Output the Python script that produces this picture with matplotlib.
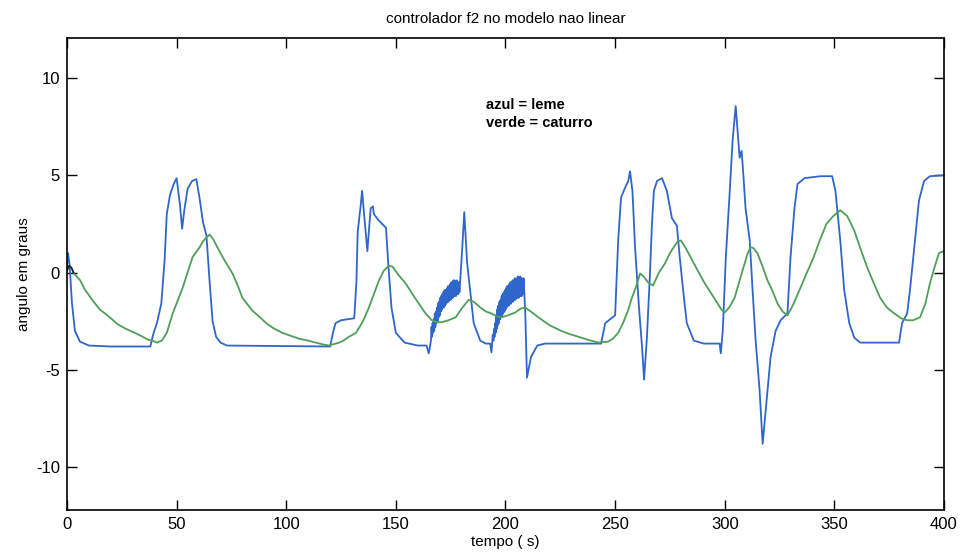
import matplotlib
matplotlib.use("Agg")
import matplotlib.pyplot as plt

# leme (blue), in pieces
leme_t_a = [0, 0.5, 1.2, 2.2, 3.6, 5.9, 10, 20, 38, 39.5, 41, 43, 44.5, 45.5, 47, 48.5, 50,
            51.5, 52.5, 53.5, 55, 57, 59, 60.5, 62, 63.6, 65, 66.4, 68, 70, 73, 120,
            121.5, 122.5, 125, 131, 132, 132.6, 134, 134.6, 135.5, 137, 138.5, 139.5, 140,
            142, 145.5, 146.5, 148, 150, 154, 160, 164, 165]
leme_y_a = [0.3, 1.0, 0.4, -1.5, -3.0, -3.55, -3.75, -3.8, -3.8, -3.1, -2.6, -1.6, 0.6, 3.0, 4.0, 4.5, 4.85,
            3.5, 2.25, 3.2, 4.3, 4.7, 4.8, 3.8, 2.6, 1.9, -0.4, -2.5, -3.3, -3.6, -3.75, -3.8,
            -3.0, -2.6, -2.45, -2.35, -0.5, 2.1, 3.5, 4.2, 3.0, 1.1, 3.3, 3.4, 3.0,
            2.7, 2.3, 0.5, -1.8, -3.1, -3.6, -3.75, -3.75, -4.15]

# first chattering stretch (about t = 166..179)
ruido1_t = [166.00, 166.25, 166.50, 166.75, 167.00, 167.25, 167.50, 167.75, 168.00, 168.25,
            168.50, 168.75, 169.00, 169.25, 169.50, 169.75, 170.00, 170.25, 170.50, 170.75,
            171.00, 171.25, 171.50, 171.75, 172.00, 172.25, 172.50, 172.75, 173.00, 173.25,
            173.50, 173.75, 174.00, 174.25, 174.50, 174.75, 175.00, 175.25, 175.50, 175.75,
            176.00, 176.25, 176.50, 176.75, 177.00, 177.25, 177.50, 177.75, 178.00, 178.25,
            178.50, 178.75, 179.00, 179.25]
ruido1_y = [-3.5, -2.8, -3.3, -2.6, -3.1, -2.4, -3.0, -2.1, -2.8, -2.0,
            -2.6, -1.8, -2.5, -1.6, -2.3, -1.5, -2.2, -1.3, -2.0, -1.2,
            -1.9, -1.1, -1.8, -1.0, -1.8, -0.9, -1.7, -0.9, -1.6, -0.8,
            -1.5, -0.7, -1.5, -0.7, -1.4, -0.6, -1.4, -0.5, -1.3, -0.5,
            -1.3, -0.4, -1.2, -0.4, -1.2, -0.5, -1.2, -0.4, -1.1, -0.5,
            -1.1, -0.5, -1.0, -0.6]

leme_t_b = [180.3, 181.2, 182.5, 185.5, 188.5, 191, 193, 193.6, 194.2]
leme_y_b = [1.3, 3.1, 0.5, -2.6, -3.5, -3.65, -3.65, -4.1, -3.2]

# second chattering stretch (about t = 194..208)
ruido2_t = [194.50, 194.75, 195.00, 195.25, 195.50, 195.75, 196.00, 196.25, 196.50, 196.75,
            197.00, 197.25, 197.50, 197.75, 198.00, 198.25, 198.50, 198.75, 199.00, 199.25,
            199.50, 199.75, 200.00, 200.25, 200.50, 200.75, 201.00, 201.25, 201.50, 201.75,
            202.00, 202.25, 202.50, 202.75, 203.00, 203.25, 203.50, 203.75, 204.00, 204.25,
            204.50, 204.75, 205.00, 205.25, 205.50, 205.75, 206.00, 206.25, 206.50, 206.75,
            207.00, 207.25, 207.50, 207.75, 208.00, 208.25]
ruido2_y = [-3.5, -2.9, -3.3, -2.6, -3.1, -2.2, -2.9, -1.9, -2.7, -1.7,
            -2.6, -1.5, -2.4, -1.4, -2.3, -1.2, -2.2, -1.1, -2.1, -1.0,
            -2.0, -0.9, -1.9, -0.8, -1.8, -0.7, -1.7, -0.7, -1.7, -0.6,
            -1.6, -0.5, -1.6, -0.5, -1.5, -0.4, -1.5, -0.4, -1.4, -0.3,
            -1.4, -0.3, -1.3, -0.3, -1.3, -0.2, -1.3, -0.3, -1.2, -0.2,
            -1.2, -0.3, -1.2, -0.3, -1.1, -0.3]

leme_t_c = [209.0, 209.8, 211.6, 214.5, 218, 243.6, 245.5, 247.7, 250.0, 251.4, 252.7,
            254.5, 256, 256.8, 257.9, 259.1, 260.9, 262.3, 263.2, 264.5, 265.9, 266.8,
            267.7, 269.1, 271.4, 273.6, 275.9, 278.2, 279.5, 281.4, 282.7, 285.9, 290.5,
            297.7, 298.2, 299.1, 300.5, 302.3, 303.6, 305, 306.8, 307.7, 308.6, 309.5,
            311.4, 312.7, 314.1, 315.9, 317.3, 319.5, 320.9, 323.2, 325.5, 328.6, 330,
            331.8, 333.2, 336.4, 343.6, 349, 350.5, 352.7, 354.5, 356.8, 359.1, 361.8,
            379.5, 380.9, 383.2, 384.5, 386.8, 388.6, 390.9, 393.6, 400]
leme_y_c = [-2.0, -5.4, -4.35, -3.75, -3.65, -3.65, -2.6, -2.4, -2.2, 1.65, 3.85,
            4.35, 4.7, 5.2, 4.2, 1.3, -1.8, -3.85, -5.5, -3.35, -0.05, 2.5,
            4.2, 4.7, 4.85, 4.2, 2.8, 2.4, 0.77, -1.3, -2.6, -3.5, -3.65,
            -3.65, -4.15, -3.0, 0.77, 4.2, 6.8, 8.55, 5.9, 6.25, 4.85, 3.3,
            1.65, -0.9, -3.5, -6.05, -8.8, -6.05, -4.35, -3.0, -2.45, -2.1, 0.77,
            3.3, 4.55, 4.85, 4.95, 4.95, 4.2, 1.65, -0.9, -2.6, -3.35, -3.6,
            -3.6, -2.6, -2.1, -0.9, 1.65, 3.7, 4.7, 4.95, 5.0]

# caturro (green)
caturro_t = [2.7, 4, 6, 8, 11.8, 15, 19.5, 23, 27, 31, 34.5, 37, 39, 41, 43.2, 45.5, 48.2,
             52.7, 57.3, 60.5, 62, 63.6, 65, 66.5, 69.5, 72, 75.5, 78, 80, 84.5, 87.5,
             90.9, 94, 98.2, 102, 105.9, 110, 113.6, 117, 119.5, 124.1, 126, 128.6, 131.8,
             135, 137.7, 140, 142.3, 144.5, 146.8, 148.5, 151, 154.5, 157.5, 160.5, 163.5,
             166.4, 168.5, 171, 174, 177.3, 180, 183.2, 185.5, 188.6, 191, 193.6, 196,
             198.2, 201, 204.5, 207, 209.1, 211.5, 215, 220, 225.5, 229, 233.2, 237.5,
             242.3, 246.8, 249, 251.4, 253.6, 255.9, 257.5, 259.5, 261.4, 263, 265, 267.3,
             270, 272.7, 275, 277.3, 278.6, 280, 282, 284.5, 287.7, 290.9, 294, 296.8,
             298.5, 300, 302, 304.5, 306.8, 309.1, 310.5, 311.8, 313.2, 315, 317.3, 319.5,
             322, 324.1, 326.4, 328.6, 331, 334.1, 337.3, 340.5, 343.5, 346.4, 349.5,
             352.7, 355.9, 359.1, 362, 365, 368, 370.9, 374, 377.3, 380.5, 383.2, 386,
             389.1, 391.5, 393.6, 395.5, 397.7, 400]
caturro_y = [0.0, -0.15, -0.4, -0.85, -1.45, -1.9, -2.3, -2.65, -2.9, -3.1, -3.3, -3.45, -3.5, -3.6, -3.5, -3.1, -2.1,
             -0.8, 0.8, 1.3, 1.6, 1.8, 1.95, 1.75, 1.1, 0.6, -0.05, -0.7, -1.3, -1.95, -2.25,
             -2.6, -2.85, -3.1, -3.25, -3.4, -3.5, -3.6, -3.7, -3.75, -3.6, -3.5, -3.3, -3.1,
             -2.5, -1.8, -1.1, -0.4, 0.1, 0.35, 0.3, -0.1, -0.56, -1.1, -1.6, -2.1,
             -2.45, -2.55, -2.55, -2.45, -2.3, -1.85, -1.4, -1.5, -1.8, -2.0, -2.1, -2.25,
             -2.3, -2.2, -2.05, -1.85, -1.8, -2.0, -2.3, -2.7, -3.0, -3.15, -3.3, -3.45,
             -3.6, -3.55, -3.4, -3.1, -2.6, -1.95, -1.35, -0.75, -0.05, -0.2, -0.5, -0.67,
             0.0, 0.46, 1.0, 1.4, 1.6, 1.65, 1.3, 0.77, 0.1, -0.56, -1.1, -1.6,
             -1.9, -2.05, -1.8, -1.3, -0.4, 0.46, 1.0, 1.3, 1.25, 0.97, 0.3, -0.4,
             -1.0, -1.6, -2.0, -2.2, -1.7, -0.9, -0.05, 0.77, 1.7, 2.5, 2.9,
             3.2, 2.9, 2.15, 1.2, 0.26, -0.55, -1.3, -1.8, -2.1, -2.35, -2.45, -2.45,
             -2.3, -1.6, -0.56, 0.2, 1.0, 1.1]

# short dark start of the curve
inicio_t = [0, 1, 2, 3]
inicio_y = [0.1, 0.35, 0.25, 0.0]

x_ticks = [0, 50, 100, 150, 200, 250, 300, 350, 400]
y_ticks = [-10, -5, 0, 5, 10]

leme_t = leme_t_a + ruido1_t + leme_t_b + ruido2_t + leme_t_c
leme_y = leme_y_a + ruido1_y + leme_y_b + ruido2_y + leme_y_c

plt.rcParams['font.family'] = ['Liberation Sans', 'DejaVu Sans']
plt.rcParams['axes.unicode_minus'] = False

fig = plt.figure(figsize=(9.6, 5.52), dpi=100)
ax = fig.add_axes([0.0698, 0.0761, 0.9135, 0.855])

ax.plot(leme_t, leme_y, color='#2f66c9', lw=1.3)
ax.plot(caturro_t, caturro_y, color='#4f9e5a', lw=1.3)
ax.plot(inicio_t, inicio_y, color='#222222', lw=1.3)

ax.set_xlim(0, 400)
ax.set_ylim(-12.2, 12.05)
ax.set_xticks(x_ticks)
ax.set_yticks(y_ticks)
ax.tick_params(direction='in', top=True, right=True, length=7, width=1, labelsize=12, pad=5)
for s in ax.spines.values():
    s.set_linewidth(1.2)

ax.set_title('controlador f2 no modelo nao linear', fontsize=11, pad=11)
ax.set_xlabel('tempo ( s)', fontsize=11, labelpad=2)
ax.set_ylabel('angulo em graus', fontsize=11, labelpad=4)

ax.text(190.9, 8.6, 'azul = leme', fontsize=10.5, fontweight='bold', va='center')
ax.text(190.9, 7.7, 'verde = caturro', fontsize=10.5, fontweight='bold', va='center')

fig.savefig('out.png', dpi=100)
